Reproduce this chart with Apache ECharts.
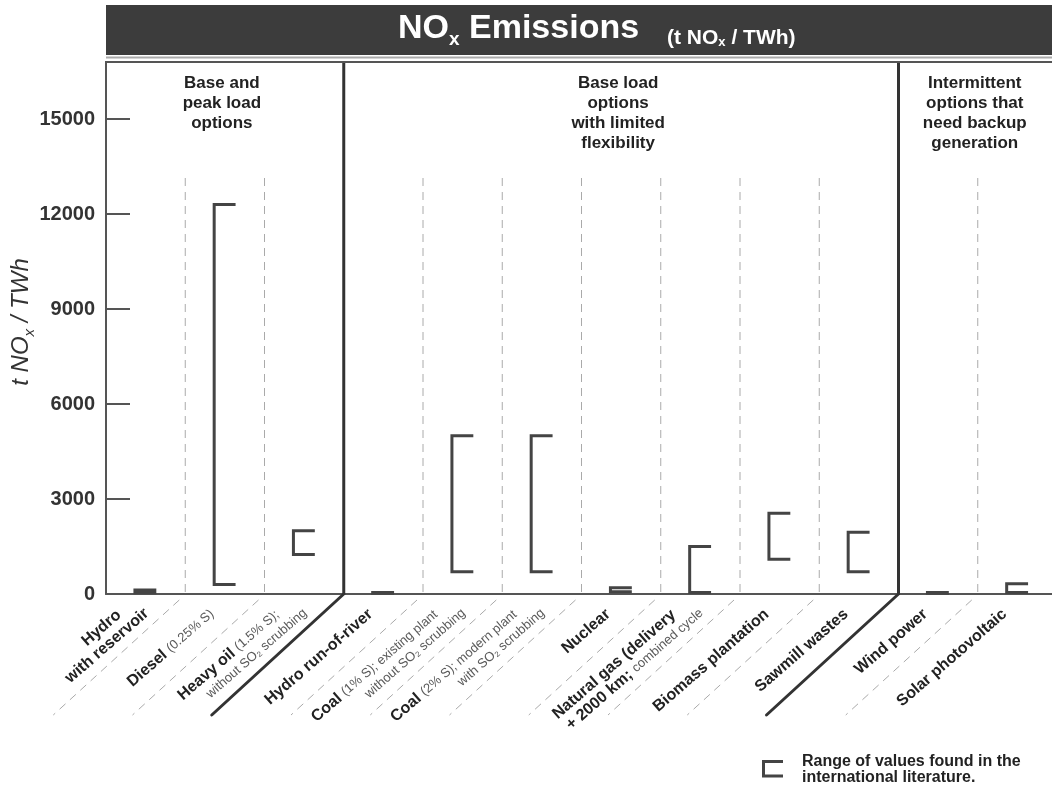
<!DOCTYPE html>
<html>
<head>
<meta charset="utf-8">
<script src="https://cdn.jsdelivr.net/npm/echarts@6/dist/echarts.min.js"></script>
<style>
html,body{margin:0;padding:0;background:#fff;}
#c{width:1052px;height:789px;}
</style>
</head>
<body>
<div id="c"></div>
<script>
// ---------------- data ----------------
const categories = [
  'Hydro\nwith reservoir',
  'Diesel (0.25% S)',
  'Heavy oil (1.5% S);\nwithout SO\u2082 scrubbing',
  'Hydro run-of-river',
  'Coal (1% S); existing plant\nwithout SO\u2082 scrubbing',
  'Coal (2% S); modern plant\nwith SO\u2082 scrubbing',
  'Nuclear',
  'Natural gas (delivery\n+ 2000 km; combined cycle',
  'Biomass plantation',
  'Sawmill wastes',
  'Wind power',
  'Solar photovoltaic'
];
const lowValues  = [40, 300, 1250, 20, 700, 700, 70, 50, 1100, 700, 20, 50];
const highValues = [130, 12300, 2000, 50, 5000, 5000, 200, 1500, 2550, 1950, 50, 320];
const yTickLabels = [0, 3000, 6000, 9000, 12000, 15000];
const sectionNames = [
  'Base and\npeak load\noptions',
  'Base load\noptions\nwith limited\nflexibility',
  'Intermittent\noptions that\nneed backup\ngeneration'
];
const sectionStarts = [0, 3, 10];
const detailParts = ['(0.25% S)', '(1.5% S);', 'without SO\u2082 scrubbing', '(1% S); existing plant',
  '(2% S); modern plant', 'with SO\u2082 scrubbing', 'combined cycle'];
const legendText = 'Range of values found in the\ninternational literature.';

// ---------------- styling helpers ----------------
const FONT = '"Liberation Sans", Arial, Helvetica, "DejaVu Sans", sans-serif';
const DARK = '#444';

function richLabel(str) {
  const lines = str.split('\n');
  const out = lines.map(line => {
    const d = detailParts.find(p => line.indexOf(p) >= 0);
    if (!d) return '{b|' + line + '}';
    const idx = line.indexOf(d);
    const head = line.slice(0, idx);
    const tail = line.slice(idx);
    return (head.trim() ? '{b|' + head + '}' : '') + '{s|' + tail + '}';
  });
  if (lines.length === 1) {
    out[0] += '{p1| }';
  } else {
    out[0] += '{p3| }';
    out[1] += '{p2| }';
  }
  return out.join('\n');
}

const rangeData = categories.map((c, i) => [i, lowValues[i], highValues[i]]);
const boundaryData = categories.map((c, i) => [i, 0]).filter(d => d[0] > 0);
const sectionData = sectionStarts.map((s, k) => [s, 0, k]);

const chart = echarts.init(document.getElementById('c'), null, {renderer: 'canvas'});

const option = {
  animation: false,
  backgroundColor: '#fff',
  grid: {left: 106, top: 62, width: 951, height: 532, containLabel: false, outerBoundsMode: 'none'},
  xAxis: {
    type: 'category',
    data: categories,
    boundaryGap: true,
    axisLine: {show: true, lineStyle: {color: '#555', width: 2}},
    axisTick: {show: false},
    splitLine: {show: false},
    axisLabel: {
      interval: 0,
      rotate: 41,
      margin: 7,
      formatter: richLabel,
      rich: {
        b: {fontFamily: FONT, fontSize: 16, fontWeight: 'bold', color: '#222', lineHeight: 17, align: 'right'},
        s: {fontFamily: FONT, fontSize: 13, color: '#5a5a5a', lineHeight: 17, align: 'right'},
        p1: {fontSize: 10, width: 17, align: 'right'},
        p2: {fontSize: 10, width: 6, align: 'right'},
        p3: {fontSize: 10, width: 28, align: 'right'}
      }
    }
  },
  yAxis: {
    type: 'value',
    min: 0,
    max: 16800,
    interval: 3000,
    axisLine: {show: true, lineStyle: {color: '#555', width: 2}},
    axisTick: {show: true, inside: true, length: 24, lineStyle: {color: '#555', width: 2}},
    splitLine: {show: false},
    axisLabel: {
      margin: 11,
      fontFamily: FONT,
      fontSize: 20,
      fontWeight: 'bold',
      color: '#333',
      showMaxLabel: false,
      formatter: v => (yTickLabels.indexOf(v) >= 0 ? String(v) : '')
    }
  },
  series: [
    {
      type: 'custom',
      name: 'separators',
      clip: false,
      silent: true,
      z: 1,
      data: boundaryData,
      encode: {x: 0, y: 1},
      renderItem: function (params, api) {
        const i = api.value(0);
        const band = api.size([1, 0])[0];
        const c = api.coord([i, 0]);
        const x = c[0] - band / 2;
        const y0 = c[1];
        const yTop = params.coordSys.y;
        const dx = -132, dy = 121;
        if (sectionStarts.indexOf(i) >= 0) {
          return {type: 'group', children: [
            {type: 'line', shape: {x1: x, y1: yTop, x2: x, y2: y0 + 1}, style: {stroke: '#333', lineWidth: 3}},
            {type: 'line', shape: {x1: x, y1: y0, x2: x + dx, y2: y0 + dy}, style: {stroke: '#333', lineWidth: 3, lineCap: 'round'}}
          ]};
        }
        return {type: 'group', children: [
          {type: 'line', shape: {x1: x, y1: yTop + 116, x2: x, y2: y0}, style: {stroke: '#aaa', lineWidth: 1, lineDash: [8, 6]}},
          {type: 'line', shape: {x1: x - 6, y1: y0 + 6, x2: x + dx, y2: y0 + dy}, style: {stroke: '#aaa', lineWidth: 1, lineDash: [8, 6]}}
        ]};
      }
    },
    {
      type: 'custom',
      name: 'sections',
      clip: false,
      silent: true,
      z: 2,
      data: sectionData,
      encode: {x: 0, y: 1},
      renderItem: function (params, api) {
        const s = api.value(0);
        const k = api.value(2);
        const band = api.size([1, 0])[0];
        const endIdx = (k + 1 < sectionStarts.length ? sectionStarts[k + 1] : categories.length) - 1;
        const xl = api.coord([s, 0])[0] - band / 2;
        const xr = api.coord([endIdx, 0])[0] + band / 2;
        const yTop = params.coordSys.y;
        return {
          type: 'text',
          style: {
            text: sectionNames[k],
            x: (xl + xr) / 2 - 3,
            y: yTop + 11,
            align: 'center',
            verticalAlign: 'top',
            fontFamily: FONT,
            fontSize: 17,
            fontWeight: 'bold',
            lineHeight: 20,
            fill: '#222'
          }
        };
      }
    },
    {
      type: 'custom',
      name: 'Range',
      clip: false,
      z: 3,
      data: rangeData,
      encode: {x: 0, y: [1, 2]},
      renderItem: function (params, api) {
        const i = api.value(0);
        const top = api.coord([i, api.value(2)]);
        const bot = api.coord([i, api.value(1)]);
        const band = api.size([1, 0])[0];
        const l = top[0] - band * 0.135;
        const r = top[0] + band * 0.135;
        return {
          type: 'polyline',
          shape: {points: [[r, top[1]], [l, top[1]], [l, bot[1]], [r, bot[1]]]},
          style: {stroke: DARK, lineWidth: 3, fill: null, lineJoin: 'miter'}
        };
      }
    }
  ],
  graphic: [
    {type: 'rect', shape: {x: 106, y: 5, width: 946, height: 50}, style: {fill: '#3c3c3c'}, z: 10},
    {type: 'line', shape: {x1: 106, y1: 57.5, x2: 1052, y2: 57.5}, style: {stroke: '#aaa', lineWidth: 2}, z: 10},
    {type: 'line', shape: {x1: 105, y1: 62, x2: 1052, y2: 62}, style: {stroke: '#555', lineWidth: 2}, z: 10},
    {
      type: 'text', x: 398, y: 29, z: 11,
      style: {
        text: '{m|NO}{mx|x}{m| Emissions}',
        align: 'left', verticalAlign: 'middle',
        rich: {
          m: {fontFamily: FONT, fontSize: 34, fontWeight: 'bold', fill: '#fff', lineHeight: 40, verticalAlign: 'middle'},
          mx: {fontFamily: FONT, fontSize: 19, fontWeight: 'bold', fill: '#fff', lineHeight: 18, verticalAlign: 'bottom'}
        }
      }
    },
    {
      type: 'text', x: 667, y: 37, z: 11,
      style: {
        text: '{g|(t NO}{gx|x}{g| / TWh)}',
        align: 'left', verticalAlign: 'middle',
        rich: {
          g: {fontFamily: FONT, fontSize: 21, fontWeight: 'bold', fill: '#fff', lineHeight: 24, verticalAlign: 'bottom'},
          gx: {fontFamily: FONT, fontSize: 13, fontWeight: 'bold', fill: '#fff', lineHeight: 13, verticalAlign: 'bottom'}
        }
      }
    },
    {
      type: 'text', x: 21, y: 322, rotation: Math.PI / 2, z: 11,
      style: {
        text: '{m|t NO}{x|x}{m| / TWh}',
        align: 'center', verticalAlign: 'middle',
        rich: {
          m: {fontFamily: FONT, fontSize: 24, fontStyle: 'italic', fill: '#333', lineHeight: 32, verticalAlign: 'middle'},
          x: {fontFamily: FONT, fontSize: 15, fontStyle: 'italic', fill: '#333', lineHeight: 16, verticalAlign: 'bottom'}
        }
      }
    },
    {
      type: 'polyline', z: 11,
      shape: {points: [[783, 761.5], [763.5, 761.5], [763.5, 776], [783, 776]]},
      style: {stroke: DARK, lineWidth: 3, fill: null}
    },
    {
      type: 'text', x: 802, y: 754, z: 11,
      style: {
        text: legendText, align: 'left', verticalAlign: 'top',
        fontFamily: FONT, fontSize: 16, fontWeight: 'bold', lineHeight: 16, fill: '#222'
      }
    }
  ]
};
chart.setOption(option);
</script>
</body>
</html>
